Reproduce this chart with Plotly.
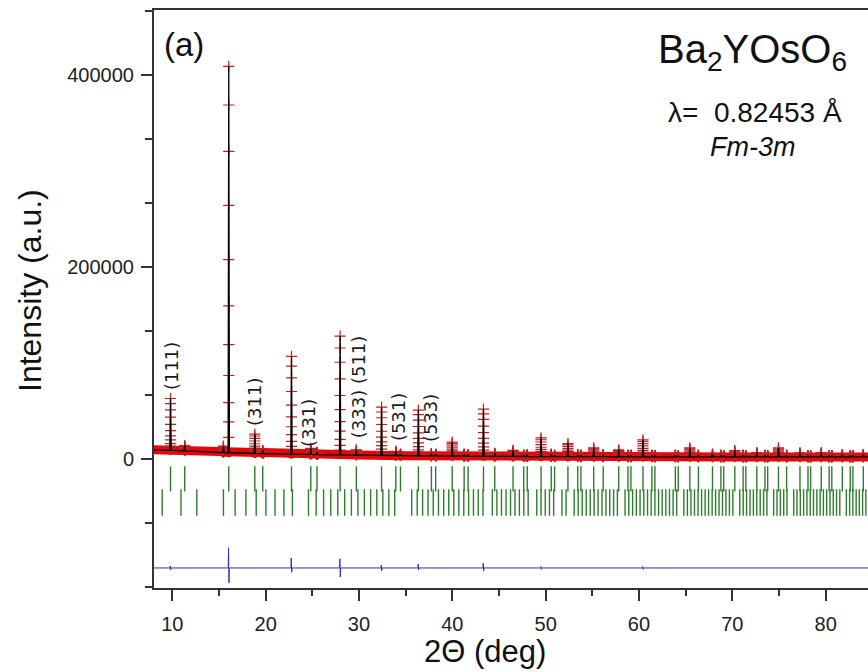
import numpy as np
import plotly.graph_objects as go

# ---------------- data ----------------
# background of the pattern (2theta, intensity)
bg_x = [8, 10, 12, 14, 16, 18, 20, 25, 30, 35, 40, 50, 60, 70, 85]
bg_y = [9600, 9000, 8300, 7400, 6500, 6000, 5500, 4700, 4100, 3500, 3000, 2500, 2300, 2200, 2200]

# observed peak tops (2theta, total intensity)
peak_x = [9.81, 11.33, 15.48, 16.05, 18.84, 19.69, 22.77, 24.84, 25.50, 27.98,
          29.72, 32.42, 33.95, 34.45, 36.37, 37.76, 38.22, 39.99, 41.27, 41.69,
          43.34, 44.55, 46.51, 47.65, 48.03, 49.51, 50.60, 50.96, 52.39, 53.44,
          53.78, 55.15, 56.17, 57.83, 58.82, 59.14, 60.43, 61.39, 61.71, 63.90,
          64.21, 65.45, 66.37, 67.88, 68.78, 69.08, 70.27, 71.16, 71.45, 72.63,
          73.50, 73.79, 74.95, 75.82, 77.25, 78.11, 78.39, 79.53, 80.38, 80.66,
          81.79, 82.64, 82.92, 84.04]
peak_y = [63000, 14000, 13500, 409000, 26000, 9000, 107000, 11000, 7000, 128000,
          9500, 54000, 8000, 5000, 51000, 5500, 5000, 17500, 5000, 4500,
          52000, 6000, 9000, 4000, 4500, 22000, 5000, 4000, 16000, 4500,
          4000, 11500, 4500, 9500, 4000, 4000, 20000, 4000, 3500, 4000,
          3500, 11500, 4000, 5000, 4000, 3500, 8700, 4000, 3500, 6600,
          4000, 3500, 11500, 4000, 6500, 3500, 3500, 6600, 3500, 3500,
          4500, 3500, 3500, 4500]

# Bragg reflection markers: Ba2YOsO6 (Fm-3m) and Y2O3 (Ia-3)
refl_main = [9.81, 11.33, 16.05, 18.84, 19.69, 22.77, 24.84, 25.50, 27.98, 29.72,
             32.42, 33.95, 34.45, 36.37, 37.76, 38.22, 39.99, 41.27, 41.69, 43.34,
             44.55, 46.51, 47.65, 48.03, 49.51, 50.60, 50.96, 52.39, 53.44, 53.78,
             55.15, 56.17, 57.83, 58.82, 59.14, 60.43, 61.39, 61.71, 63.90, 64.21,
             65.45, 66.37, 67.88, 68.78, 69.08, 70.27, 71.16, 71.45, 72.63, 73.50,
             73.79, 74.95, 75.82, 77.25, 78.11, 78.39, 79.53, 80.38, 80.66, 81.79,
             82.64, 82.92, 84.04]
refl_imp = [8.92, 10.93, 12.63, 15.48, 16.73, 17.89, 18.99, 20.03, 21.01, 21.96,
            22.87, 24.59, 25.41, 26.21, 26.98, 27.73, 28.47, 29.19, 29.89, 30.58,
            31.25, 31.91, 32.56, 33.20, 33.83, 35.65, 36.24, 36.82, 37.40, 37.96,
            38.52, 39.08, 39.62, 40.16, 40.70, 41.23, 41.75, 42.27, 42.78, 43.29,
            44.29, 44.78, 45.27, 45.76, 46.24, 46.72, 47.19, 47.66, 48.13, 49.05,
            49.51, 49.96, 50.41, 50.86, 51.75, 52.19, 53.06, 53.49, 53.92, 54.35,
            54.78, 55.20, 55.62, 56.04, 56.46, 56.87, 57.28, 57.69, 58.51, 58.91,
            59.32, 59.72, 60.12, 60.52, 60.92, 61.31, 61.71, 62.10, 62.49, 62.88,
            63.27, 63.66, 64.04, 64.81, 65.19, 65.57, 65.95, 66.33, 66.71, 67.09,
            67.46, 67.84, 68.21, 68.58, 68.95, 69.32, 69.69, 70.06, 70.80, 71.17,
            71.53, 71.90, 72.26, 72.62, 72.99, 73.35, 73.71, 74.43, 74.79, 75.15,
            75.51, 75.86, 76.58, 76.93, 77.29, 77.64, 78.00, 78.35, 78.70, 79.06,
            79.41, 79.76, 80.11, 80.47, 80.82, 81.17, 81.52, 82.22, 82.57, 82.92,
            83.27, 83.61, 83.96, 84.31]

# difference curve: baseline and spikes (up / down extent)
diff_base = -113500
diff_pos = [9.81, 16.05, 22.77, 27.98, 32.42, 36.37, 43.34, 49.51, 60.43]
diff_up = [2000, 21000, 10500, 9500, 3000, 4000, 5000, 1500, 1500]
diff_down = [2000, 15500, 4500, 9500, 3000, 2000, 3000, 1500, 1500]

# hkl labels
hkl_text = ["(111)", "(311)", "(331)", "(333) (511)", "(531)", "(533)"]
hkl_x = [9.98, 18.86, 24.55, 29.92, 34.19, 37.62]
hkl_y = [96900, 59400, 37500, 75000, 43700, 42700]

x_ticks = [10, 20, 30, 40, 50, 60, 70, 80]
y_ticks = [0, 200000, 400000]
y_ticktext = ["0", "200000", "400000"]

# ---------------- build traces ----------------
RED = "rgb(228,8,8)"
CROSS = "rgb(200,30,30)"
GREEN = "rgb(45,125,45)"
BLUE = "rgb(50,50,170)"
FONT = "Arial, 'Liberation Sans', sans-serif"

peak_bg = np.interp(peak_x, bg_x, bg_y)
half_w = 0.07

# calculated profile (background plus narrow peaks)
cx, cy = [], []
pts = sorted(list(zip(bg_x, bg_y, ["b"] * len(bg_x))) +
             list(zip(peak_x, peak_y, ["p"] * len(peak_x))))
for x, y, kind in pts:
    if kind == "b":
        cx.append(x); cy.append(y)
    else:
        b = float(np.interp(x, bg_x, bg_y))
        cx += [x - half_w, x, x + half_w]
        cy += [b, y, b]

# observed points on peaks
levels = [1.0, 0.9, 0.78, 0.64, 0.5, 0.38, 0.28, 0.2, 0.13, 0.08, 0.04]
ox, oy = [], []
for x, y, b in zip(peak_x, peak_y, peak_bg):
    for f in levels:
        ox.append(x)
        oy.append(b + f * (y - b))

# difference curve
dx, dy = [bg_x[0]], [diff_base]
for p, u, d in zip(diff_pos, diff_up, diff_down):
    dx += [p - 0.06, p - 0.02, p + 0.02, p + 0.06]
    dy += [diff_base, diff_base + u, diff_base - d, diff_base]
dx.append(bg_x[-1]); dy.append(diff_base)

fig = go.Figure()
# observed band along the background
fig.add_trace(go.Scatter(x=bg_x, y=bg_y, mode="lines",
                         line=dict(color=RED, width=9), hoverinfo="skip"))
fig.add_trace(go.Scatter(x=peak_x, y=peak_bg, mode="markers",
                         marker=dict(symbol="circle", size=9, color=RED),
                         hoverinfo="skip"))
fig.add_trace(go.Scatter(x=ox, y=oy, mode="markers",
                         marker=dict(symbol="cross-thin", size=8,
                                     line=dict(color=CROSS, width=1.2)),
                         hoverinfo="skip"))
fig.add_trace(go.Scatter(x=cx, y=cy, mode="lines",
                         line=dict(color="black", width=1.3), hoverinfo="skip"))
# Bragg reflection rows
fig.add_trace(go.Scatter(x=refl_main, y=[-20800] * len(refl_main), mode="markers",
                         marker=dict(symbol="line-ns", size=18,
                                     line=dict(color=GREEN, width=1.4)),
                         hoverinfo="skip"))
fig.add_trace(go.Scatter(x=refl_imp, y=[-45300] * len(refl_imp), mode="markers",
                         marker=dict(symbol="line-ns", size=19,
                                     line=dict(color=GREEN, width=1.4)),
                         hoverinfo="skip"))
# difference
fig.add_trace(go.Scatter(x=dx, y=dy, mode="lines",
                         line=dict(color=BLUE, width=1), hoverinfo="skip"))

ann = []
for t, x, y in zip(hkl_text, hkl_x, hkl_y):
    ann.append(dict(x=x, y=y, xref="x", yref="y", text=t, textangle=-90,
                    xanchor="center", yanchor="middle", showarrow=False,
                    font=dict(family="DejaVu Sans", size=18, color="#1a1a1a")))

W, H = 868, 672
L, T, B = 154, 10, 84
PW, PH = W - L, H - T - B


def px(xp):
    return (xp - L) / PW


def py(yp):
    return (H - B - yp) / PH


def note(xp, yp, text, size, angle=0):
    return dict(x=px(xp), y=py(yp), xref="paper", yref="paper", text=text,
                xanchor="center", yanchor="middle", textangle=angle, showarrow=False,
                font=dict(family=FONT, size=size, color="#111"))


ann += [
    note(183.5, 44, "(a)", 33),
    note(752, 52, "Ba<sub>2</sub>YOsO<sub>6</sub>", 40),
    note(755, 113, "\u03bb=\u00a0\u00a00.82453 \u00c5", 28),
    note(752, 147, "<i>Fm-3m</i>", 27),
    note(30, 291, "Intensity (a.u.)", 32, -90),
    note(485, 651, "2\u0398 (deg)", 31),
]

fig.update_layout(
    width=W, height=H,
    margin=dict(l=L, r=0, t=T, b=B, pad=0),
    paper_bgcolor="white", plot_bgcolor="white",
    showlegend=False,
    annotations=ann,
    xaxis=dict(range=[8.04, 84.54], tickvals=x_ticks, ticks="outside", ticklen=11,
               tickwidth=1.6, tickcolor="#333", showline=True, linewidth=2, linecolor="#333",
               mirror=True, showgrid=False, zeroline=False, ticklabelstandoff=6,
               tickfont=dict(family=FONT, size=20, color="#222"),
               minor=dict(dtick=5, tick0=0, ticks="outside", ticklen=6, tickwidth=1.6,
                          tickcolor="#333", showgrid=False)),
    yaxis=dict(range=[-134375, 467708], tickvals=y_ticks, ticktext=y_ticktext,
               ticks="outside", ticklen=11,
               tickwidth=1.6, tickcolor="#333", showline=True, linewidth=2, linecolor="#333",
               mirror=False, showgrid=False, zeroline=False, ticklabelstandoff=3,
               tickfont=dict(family=FONT, size=20, color="#222"),
               minor=dict(dtick=200000 / 3, tick0=0, ticks="outside", ticklen=7,
                          tickwidth=1.6, tickcolor="#333", showgrid=False)),
)

fig.write_html("out.html")
